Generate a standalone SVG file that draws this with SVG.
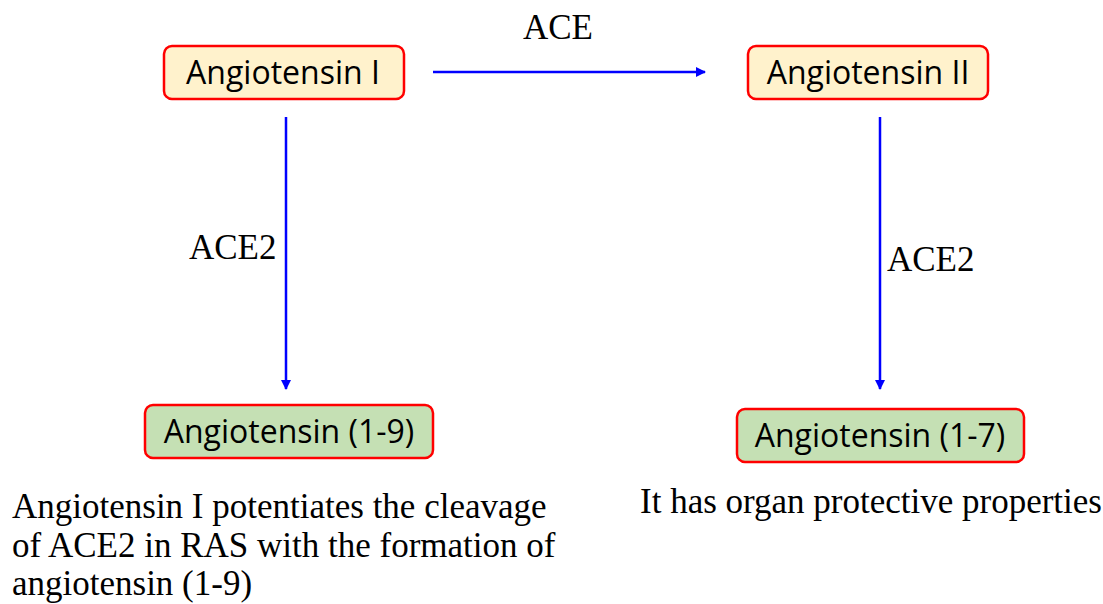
<svg xmlns="http://www.w3.org/2000/svg" width="1103" height="604" viewBox="0 0 1103 604">
<style>
.box{stroke:#ff0000;stroke-width:2.5}
.y{fill:#fff2cc}
.g{fill:#c5e0b4}
.bt{font-family:"Open Sans","Noto Sans",sans-serif;font-size:32px;fill:#000;text-anchor:middle}
.lbl{font-family:"Liberation Serif","Times New Roman",serif;font-size:35px;fill:#000}
.con{stroke:#0000ff;stroke-width:2.5;fill:none}
</style>
<defs>
<marker id="ah" viewBox="0 0 10 10" refX="9" refY="5" markerWidth="4" markerHeight="4" orient="auto" markerUnits="strokeWidth">
<path d="M0,0 L10,5 L0,10 z" fill="#0000ff"/>
</marker>
</defs>
<g id="connectors">
<line class="con" x1="433" y1="72" x2="705" y2="72" marker-end="url(#ah)"/>
<line class="con" x1="286" y1="117" x2="286" y2="389" marker-end="url(#ah)"/>
<line class="con" x1="880" y1="117" x2="880" y2="389" marker-end="url(#ah)"/>
<text class="lbl" x="558" y="39" text-anchor="middle">ACE</text>
<text class="lbl" x="189" y="259">ACE2</text>
<text class="lbl" x="887" y="271">ACE2</text>
</g>
<g id="node-ang1">
<rect class="box y" x="164" y="46" width="240" height="53" rx="8"/>
<text class="bt" x="283" y="84">Angiotensin I</text>
</g>
<g id="node-ang2">
<rect class="box y" x="748" y="46" width="240" height="53" rx="8"/>
<text class="bt" x="868" y="84">Angiotensin II</text>
</g>
<g id="node-ang19">
<rect class="box g" x="145" y="405" width="288" height="53" rx="8"/>
<text class="bt" x="289" y="443">Angiotensin (1-9)</text>
</g>
<g id="node-ang17">
<rect class="box g" x="737" y="409" width="287" height="53" rx="8"/>
<text class="bt" x="880" y="447">Angiotensin (1-7)</text>
</g>
<g id="notes">
<text class="lbl" x="12" y="518">Angiotensin I potentiates the cleavage</text>
<text class="lbl" x="12" y="557">of ACE2 in RAS with the formation of</text>
<text class="lbl" x="12" y="595">angiotensin (1-9)</text>
<text class="lbl" x="640" y="513">It has organ protective properties</text>
</g>
</svg>
